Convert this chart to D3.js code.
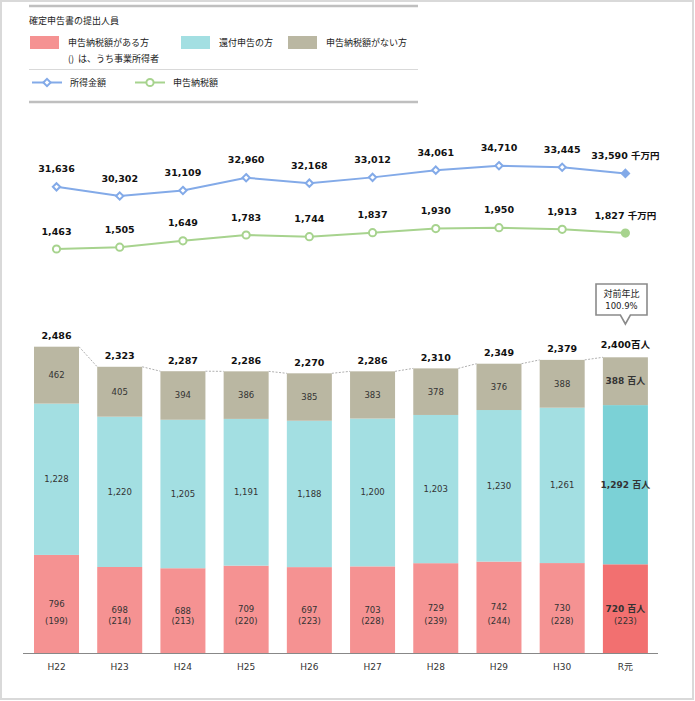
<!DOCTYPE html>
<html><head><meta charset="utf-8">
<script src="https://cdn.jsdelivr.net/npm/d3@7"></script>
<style>
html,body{margin:0;padding:0;background:#fff;}
text{font-family:"DejaVu Sans","Noto Sans CJK JP",sans-serif;}
.jp{font-family:"Noto Sans CJK JP","DejaVu Sans",sans-serif;}
</style>
</head><body>
<svg id="chart" width="695" height="701"></svg>
<script>
const categories = ["H22","H23","H24","H25","H26","H27","H28","H29","H30","R元"];
const taxPayers = [796,698,688,709,697,703,729,742,730,720];
const businessIncome = [199,214,213,220,223,228,239,244,228,223];
const refunds = [1228,1220,1205,1191,1188,1200,1203,1230,1261,1292];
const noTax = [462,405,394,386,385,383,378,376,388,388];
const totals = [2486,2323,2287,2286,2270,2286,2310,2349,2379,2400];
// plotted positions of 所得金額 (H30 point sits higher than its label in the original)
const incomeAmount = [31636,30302,31109,32960,32168,33012,34061,34710,34480,33590];
const incomeLabels = ["31,636","30,302","31,109","32,960","32,168","33,012","34,061","34,710","33,445","33,590"];
const taxAmount = [1463,1505,1649,1783,1744,1837,1930,1950,1913,1827];
const taxLabels = ["1,463","1,505","1,649","1,783","1,744","1,837","1,930","1,950","1,913","1,827"];
const yoyLabel = ["対前年比","100.9%"];
const legendTitle = "確定申告書の提出人員";

const svg = d3.select("#chart");
const C = {red:"#F59292", cyan:"#A3DFE2", gray:"#BAB7A2", redHi:"#F27070", cyanHi:"#7BD1D6",
  blue:"#83AAE8", green:"#A7D38E"};

// outer frame
svg.append("rect").attr("x",1).attr("y",1).attr("width",692).attr("height",698)
  .attr("fill","none").attr("stroke","#d9d9d9").attr("stroke-width",2);

// legend
const lg = svg.append("g");
lg.append("line").attr("x1",29).attr("x2",418).attr("y1",6).attr("y2",6).attr("stroke","#bfbfbf").attr("stroke-width",2.5);
lg.append("line").attr("x1",29).attr("x2",418).attr("y1",102).attr("y2",102).attr("stroke","#bfbfbf").attr("stroke-width",2.5);
lg.append("line").attr("x1",29).attr("x2",418).attr("y1",69.5).attr("y2",69.5).attr("stroke","#d9d9d9").attr("stroke-width",1);
lg.append("text").attr("class","jp").attr("x",29).attr("y",24).attr("font-size",9).attr("fill","#222").text(legendTitle);
const sw = [
  {x:30,c:C.red,t:"申告納税額がある方"},
  {x:181,c:C.cyan,t:"還付申告の方"},
  {x:288,c:C.gray,t:"申告納税額がない方"}];
sw.forEach(s=>{
  lg.append("rect").attr("x",s.x).attr("y",36).attr("width",29).attr("height",13).attr("fill",s.c);
  lg.append("text").attr("class","jp").attr("x",s.x+38).attr("y",46).attr("font-size",9).attr("fill","#222").text(s.t);
});
lg.append("text").attr("class","jp").attr("x",68).attr("y",62).attr("font-size",9).attr("fill","#222")
  .attr("xml:space","preserve").style("white-space","pre").text("()  は、うち事業所得者");
// line legends
lg.append("line").attr("x1",32).attr("x2",62).attr("y1",82.5).attr("y2",82.5).attr("stroke",C.blue).attr("stroke-width",2);
lg.append("path").attr("d",d3.symbol(d3.symbolDiamond2,34)()).attr("transform","translate(47,82.5)")
  .attr("fill","#fff").attr("stroke",C.blue).attr("stroke-width",2);
lg.append("text").attr("class","jp").attr("x",70).attr("y",86).attr("font-size",9).attr("fill","#222").text("所得金額");
lg.append("line").attr("x1",135).attr("x2",165).attr("y1",82.5).attr("y2",82.5).attr("stroke",C.green).attr("stroke-width",2);
lg.append("circle").attr("cx",150).attr("cy",82.5).attr("r",3.6).attr("fill","#fff").attr("stroke",C.green).attr("stroke-width",2);
lg.append("text").attr("class","jp").attr("x",173).attr("y",86).attr("font-size",9).attr("fill","#222").text("申告納税額");

// scales
const x = d3.scaleBand().domain(categories).range([24.9,657]).paddingInner(0.288).paddingOuter(0.144);
const bw = x.bandwidth();
const cx = c => x(c)+bw/2;
const yBar = d3.scaleLinear().domain([0,2486]).range([653,346.7]);
const yInc = d3.scaleLinear().domain([30302,34710]).range([196,165.7]);
const yTax = d3.scaleLinear().domain([1463,1950]).range([249,227.7]);

// bars
const last = categories.length-1;
const stacks = categories.map((c,i)=>{
  const a = taxPayers[i], b = refunds[i], g = noTax[i];
  return {c,i,segs:[
    {y0:0,y1:a,col:i===last?C.redHi:C.red,v:a,k:"r"},
    {y0:a,y1:a+b,col:i===last?C.cyanHi:C.cyan,v:b,k:"c"},
    {y0:a+b,y1:a+b+g,col:C.gray,v:g,k:"g"}]};
});
const bars = svg.append("g");
stacks.forEach(s=>{
  s.segs.forEach(seg=>{
    bars.append("rect").attr("x",x(s.c)).attr("width",bw)
      .attr("y",yBar(seg.y1)).attr("height",yBar(seg.y0)-yBar(seg.y1)).attr("fill",seg.col);
    const isLast = s.i===last;
    const t = d3.format(",")(seg.v) + (isLast?" 百人":"");
    bars.append("text").attr("x",cx(s.c)).attr("y",(yBar(seg.y0)+yBar(seg.y1))/2+3)
      .attr("text-anchor","middle").attr("font-size",isLast?9:8.5)
      .attr("font-weight",isLast?"bold":"normal").attr("fill","#333").text(t);
  });
  bars.append("text").attr("x",cx(s.c)).attr("y",yBar(260)+3).attr("text-anchor","middle")
    .attr("font-size",8.5).attr("fill","#333").text("("+businessIncome[s.i]+")");
});
// dotted connectors
for(let i=0;i<last;i++){
  const tot0 = taxPayers[i]+refunds[i]+noTax[i], tot1 = taxPayers[i+1]+refunds[i+1]+noTax[i+1];
  svg.append("line").attr("x1",x(categories[i])+bw).attr("y1",yBar(tot0))
    .attr("x2",x(categories[i+1])).attr("y2",yBar(tot1))
    .attr("stroke","#b0b0b0").attr("stroke-width",1).attr("stroke-dasharray","2,1.5");
}
// totals
categories.forEach((c,i)=>{
  const tot = taxPayers[i]+refunds[i]+noTax[i];
  svg.append("text").attr("x",cx(c)).attr("y",yBar(tot)-(i===last?9:7.5)).attr("text-anchor","middle")
    .attr("font-size",9.5).attr("font-weight","bold").attr("fill","#111")
    .text(d3.format(",")(totals[i])+(i===last?"百人":""));
});
// axis
svg.append("line").attr("x1",23).attr("x2",658).attr("y1",653.5).attr("y2",653.5).attr("stroke","#888").attr("stroke-width",1);
const xAxis = svg.append("g").attr("transform","translate(0,653.5)")
  .call(d3.axisBottom(x).tickSize(0).tickPadding(10));
xAxis.select(".domain").remove();
xAxis.selectAll("text").attr("font-size",9).attr("fill","#333")
  .attr("font-family",'"DejaVu Sans","Noto Sans CJK JP",sans-serif');

// callout
const bx0=596, bx1=647, by0=284, by1=315, tipX=cx(categories[last]);
svg.append("path").attr("d",`M${bx0},${by0}H${bx1}V${by1}H${tipX+5}L${tipX},${by1+9}L${tipX-5},${by1}H${bx0}Z`)
  .attr("fill","#fff").attr("stroke","#8a8a8a").attr("stroke-width",1.6);
svg.append("text").attr("class","jp").attr("x",(bx0+bx1)/2).attr("y",297).attr("text-anchor","middle").attr("font-size",9).attr("fill","#222").text(yoyLabel[0]);
svg.append("text").attr("x",(bx0+bx1)/2).attr("y",309).attr("text-anchor","middle").attr("font-size",8.5).attr("fill","#222").text(yoyLabel[1]);

// lines
function drawLine(vals, labels, y, col, sym, unitLast){
  const g = svg.append("g");
  g.append("path").datum(vals).attr("fill","none").attr("stroke",col).attr("stroke-width",2)
    .attr("d",d3.line().x((d,i)=>cx(categories[i])).y(d=>y(d)));
  vals.forEach((v,i)=>{
    const isLast = i===last;
    if(sym==="diamond"){
      g.append("path").attr("d",d3.symbol(d3.symbolDiamond2,34)())
        .attr("transform",`translate(${cx(categories[i])},${y(v)})`)
        .attr("fill",isLast?col:"#fff").attr("stroke",col).attr("stroke-width",2);
    } else {
      g.append("circle").attr("cx",cx(categories[i])).attr("cy",y(v)).attr("r",3.6)
        .attr("fill",isLast?col:"#fff").attr("stroke",col).attr("stroke-width",2);
    }
    g.append("text").attr("x",cx(categories[i])).attr("y",y(v)-14.5).attr("text-anchor","middle")
      .attr("font-size",9.5).attr("font-weight","bold").attr("fill","#111")
      .text(labels[i]+(isLast?" "+unitLast:""));
  });
}
drawLine(incomeAmount,incomeLabels,yInc,C.blue,"diamond","千万円");
drawLine(taxAmount,taxLabels,yTax,C.green,"circle","千万円");
</script>
</body></html>
